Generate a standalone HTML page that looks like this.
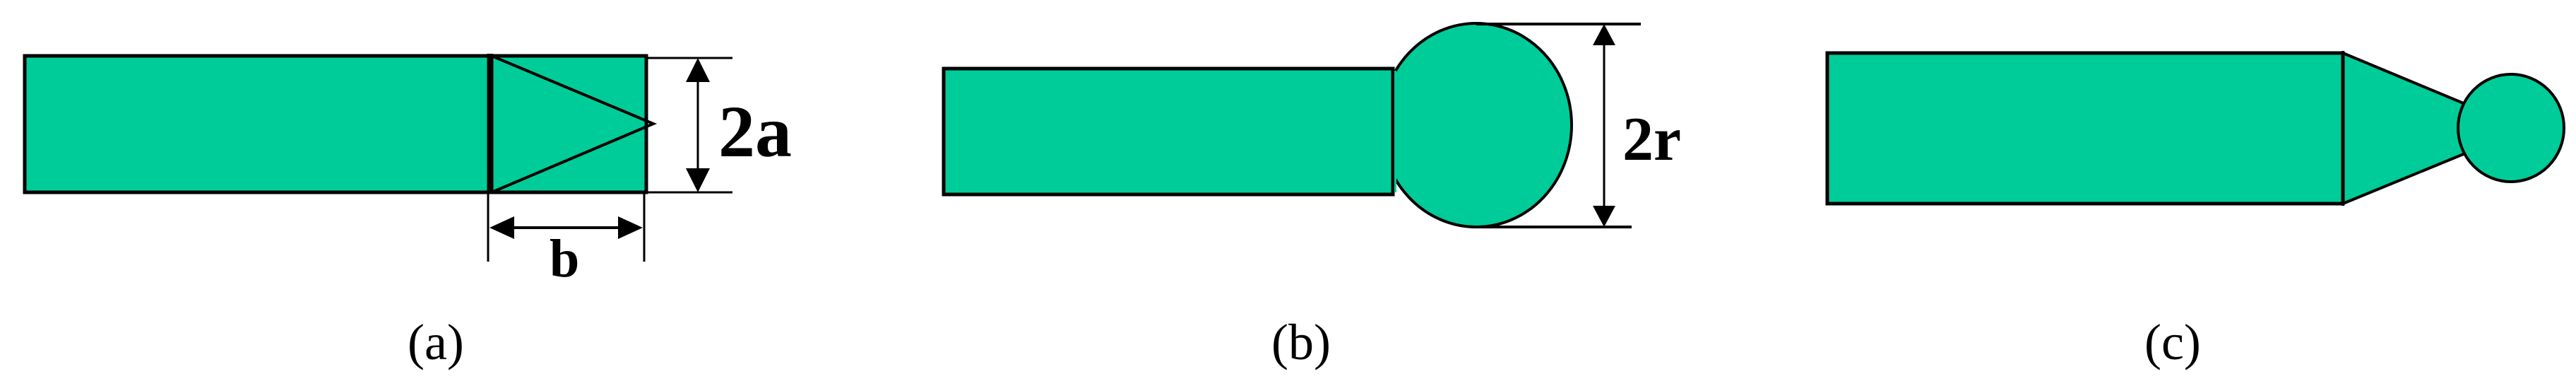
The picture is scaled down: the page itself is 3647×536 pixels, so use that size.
<!DOCTYPE html>
<html><head><meta charset="utf-8"><style>
html,body{margin:0;padding:0;background:#fff;}
svg{display:block;}
text{font-family:"Liberation Serif",serif;fill:#000;}
</style></head><body>
<svg width="3647" height="536" viewBox="0 0 3647 536" xmlns="http://www.w3.org/2000/svg">
<!-- (a) -->
<rect x="35" y="79" width="880" height="193" fill="#00cc99" stroke="#000" stroke-width="5"/>
<line x1="694" y1="76" x2="694" y2="274" stroke="#000" stroke-width="9"/>
<polyline points="696,79 925,175 696,272" fill="none" stroke="#000" stroke-width="4"/>
<line x1="915" y1="82" x2="1037" y2="82" stroke="#000" stroke-width="3"/>
<line x1="915" y1="272" x2="1037" y2="272" stroke="#000" stroke-width="3"/>
<line x1="988" y1="100" x2="988" y2="255" stroke="#000" stroke-width="3"/>
<polygon points="988,82 971,116 1005,116" fill="#000"/>
<polygon points="988,272 971,238 1005,238" fill="#000"/>
<text x="1017" y="221" font-size="104" font-weight="bold">2a</text>
<line x1="691" y1="274" x2="691" y2="370" stroke="#000" stroke-width="3"/>
<line x1="912" y1="274" x2="912" y2="370" stroke="#000" stroke-width="3"/>
<line x1="710" y1="322" x2="895" y2="322" stroke="#000" stroke-width="4"/>
<polygon points="693,322 728,306 728,338" fill="#000"/>
<polygon points="910,322 875,306 875,338" fill="#000"/>
<text x="778" y="391" font-size="76" font-weight="bold">b</text>
<text x="577" y="508" font-size="72">(a)</text>
<!-- (b) -->
<ellipse cx="2090" cy="177" rx="135" ry="144" fill="#00cc99" stroke="#000" stroke-width="4"/>
<rect x="1336" y="97" width="636" height="178" fill="#00cc99" stroke="#000" stroke-width="5"/>
<rect x="1971" y="100" width="6" height="172" fill="#00cc99"/>
<line x1="1972" y1="97" x2="1972" y2="275" stroke="#000" stroke-width="4"/>
<line x1="2090" y1="34" x2="2323" y2="34" stroke="#000" stroke-width="4"/>
<line x1="2090" y1="321" x2="2310" y2="321" stroke="#000" stroke-width="4"/>
<line x1="2271" y1="50" x2="2271" y2="305" stroke="#000" stroke-width="3"/>
<polygon points="2271,34 2255,64 2287,64" fill="#000"/>
<polygon points="2271,321 2255,291 2287,291" fill="#000"/>
<text x="2297" y="226" font-size="88" font-weight="bold">2r</text>
<text x="1800" y="508" font-size="72">(b)</text>
<!-- (c) -->
<polygon points="3317,75 3490,147 3490,217 3317,288" fill="#00cc99" stroke="#000" stroke-width="4"/>
<rect x="2587" y="75" width="730" height="213" fill="#00cc99" stroke="#000" stroke-width="5"/>
<line x1="3317" y1="72" x2="3317" y2="291" stroke="#000" stroke-width="4"/>
<ellipse cx="3555" cy="181" rx="75" ry="76" fill="#00cc99" stroke="#000" stroke-width="4"/>
<text x="3036" y="508" font-size="72">(c)</text>
</svg>
</body></html>
